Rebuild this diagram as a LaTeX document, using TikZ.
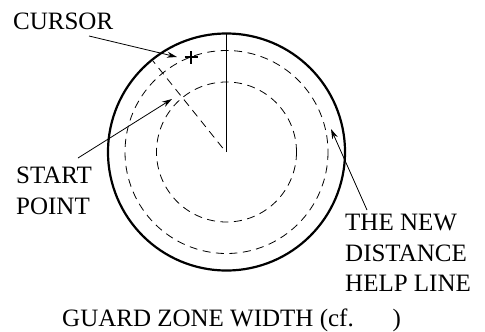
\documentclass[tikz,border=0pt]{standalone}
\usepackage{fontspec}
\setmainfont{Liberation Serif}
\usetikzlibrary{arrows.meta}
\tikzset{lbl/.style={inner sep=0pt,font=\fontsize{25}{30.5}\selectfont,align=left,anchor=west},
 ptr/.style={line width=0.8pt,-{Stealth[length=10pt,width=6pt]}},
 helpline/.style={line width=0.8pt,dash pattern=on 8pt off 5.5pt},
 cursormark/.style={line width=2.2pt}}
\begin{document}
\begin{tikzpicture}[x=1pt,y=-1pt]
\useasboundingbox (0,0) rectangle (485,332);
\coordinate (c) at (226.5,152);
\draw[line width=2.2pt] (c) circle (118.5);
\draw[helpline] (c) circle (101.5);
\draw[helpline] (c) circle (70);
\coordinate (top) at (226.5,33);
\coordinate (dashstart) at (222.7,148);
\coordinate (dashend) at (153,61);
\draw[line width=0.9pt] (c) -- (top);
\draw[helpline] (dashstart) -- (dashend);
\node[lbl] (cur) at (13,21) {CURSOR};
\node[lbl] (sp) at (16,191) {START\\POINT};
\node[lbl] (nd) at (345,253) {THE NEW\\DISTANCE\\HELP LINE};
\node[lbl] (gz) at (62,320) {GUARD ZONE WIDTH (cf.\hspace{1.55em})};
\coordinate (plus) at (191,57);
\draw[cursormark] ([xshift=-6.5pt]plus) -- ([xshift=6.5pt]plus);
\draw[cursormark] ([yshift=-6.5pt]plus) -- ([yshift=6.5pt]plus);
\coordinate (a1) at (177,57);\coordinate (a2) at (172,99);\coordinate (a3) at (331,129);
\coordinate (s1) at (89,36);\coordinate (s2) at (78,158);\coordinate (s3) at (367,210);
\draw[ptr] (s1) -- (a1);
\draw[ptr] (s2) -- (a2);
\draw[ptr] (s3) -- (a3);
\end{tikzpicture}
\end{document}
